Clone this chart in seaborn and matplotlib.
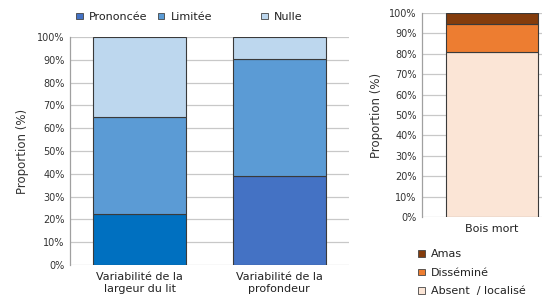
import matplotlib
matplotlib.use("Agg")
import matplotlib.pyplot as plt
from matplotlib.patches import Patch
import seaborn as sns
import numpy as np

# ---- data ----
categories_left = ["Variabilité de la\nlargeur du lit", "Variabilité de la\nprofondeur"]
prononcee = [22.5, 39.0]
limitee = [42.5, 51.5]
nulle = [35.0, 9.5]
series_left = ["Prononcée", "Limitée", "Nulle"]

categories_right = ["Bois mort"]
absent = [81.0]
dissemine = [13.5]
amas = [5.5]
series_right = ["Amas", "Disséminé", "Absent  / localisé"]

yticks = list(range(0, 101, 10))
ytick_labels = [f"{v}%" for v in yticks]

sns.set_theme(style="white")
plt.rcParams["font.family"] = ["DejaVu Sans"]

W, H = 542, 303
fig = plt.figure(figsize=(W / 100, H / 100), dpi=100)
fig.patch.set_facecolor("white")

def ax_rect(x0, x1, ytop, ybot):
    return [x0 / W, 1 - ybot / H, (x1 - x0) / W, (ybot - ytop) / H]

ax1 = fig.add_axes(ax_rect(70, 349, 37, 265))
ax2 = fig.add_axes(ax_rect(422, 542, 13, 217))

edge = "#3a3a3a"
lw = 0.8
grid_c = "#c8c8c8"

c_pron = ["#0070C0", "#4472C4"]
c_lim = "#5B9BD5"
c_nul = "#BDD7EE"

sns.barplot(x=categories_left, y=prononcee, hue=categories_left, palette=c_pron,
            legend=False, width=0.67, ax=ax1, edgecolor=edge, linewidth=lw, zorder=3)
sns.barplot(x=categories_left, y=limitee, bottom=prononcee, color=c_lim,
            width=0.67, ax=ax1, edgecolor=edge, linewidth=lw, saturation=1, zorder=3)
sns.barplot(x=categories_left, y=nulle, bottom=np.add(prononcee, limitee), color=c_nul,
            width=0.67, ax=ax1, edgecolor=edge, linewidth=lw, saturation=1, zorder=3)
for p, c in zip(ax1.patches[:2], c_pron):
    p.set_facecolor(c)

c_abs = "#FBE5D6"
c_dis = "#ED7D31"
c_amas = "#843C0C"
sns.barplot(x=categories_right, y=absent, color=c_abs, width=0.66, ax=ax2,
            edgecolor=edge, linewidth=lw, saturation=1, zorder=3)
sns.barplot(x=categories_right, y=dissemine, bottom=absent, color=c_dis, width=0.66, ax=ax2,
            edgecolor=edge, linewidth=lw, saturation=1, zorder=3)
sns.barplot(x=categories_right, y=amas, bottom=np.add(absent, dissemine), color=c_amas,
            width=0.66, ax=ax2, edgecolor=edge, linewidth=lw, saturation=1, zorder=3)

for ax in (ax1, ax2):
    ax.set_ylim(0, 100)
    ax.set_yticks(yticks)
    ax.set_yticklabels(ytick_labels, fontsize=7, color="#333333")
    ax.yaxis.grid(True, color=grid_c, linewidth=0.9, zorder=0)
    ax.set_axisbelow(True)
    for s in ("top", "right", "bottom"):
        ax.spines[s].set_visible(False)
    ax.spines["left"].set_color("#a0a0a0")
    ax.spines["left"].set_linewidth(0.9)
    ax.tick_params(axis="both", length=0, pad=4)
    ax.set_xlabel("")
    ax.set_facecolor("white")

ax1.set_ylabel("Proportion (%)", fontsize=8.5, color="#333333", labelpad=6)
ax2.set_ylabel("Proportion (%)", fontsize=8.5, color="#333333", labelpad=4)
ax1.set_xlim(-0.5, 1.5)
ax1.tick_params(axis="x", labelsize=8, pad=5, labelcolor="#222222")
ax2.set_xlim(-0.5, 0.36)
ax2.tick_params(axis="x", labelsize=8, pad=5, labelcolor="#222222")

# legends
leg_colors_left = ["#4472C4", c_lim, c_nul]
h = [Patch(facecolor=c, edgecolor="#444444", linewidth=0.6) for c in leg_colors_left]
kw = dict(frameon=False, fontsize=8, handlelength=0.55, handleheight=0.55,
          handletextpad=0.55, borderaxespad=0, labelcolor="#222222")
fig.legend(h[:2], series_left[:2], ncol=2, columnspacing=1.0,
           loc="center left", bbox_to_anchor=(72 / W, 1 - 17 / H), **kw)
fig.legend(h[2:], series_left[2:], ncol=1,
           loc="center left", bbox_to_anchor=(257 / W, 1 - 17 / H), **kw)

leg_colors_right = [c_amas, c_dis, c_abs]
h2 = [Patch(facecolor=c, edgecolor="#444444", linewidth=0.6) for c in leg_colors_right]
fig.legend(h2, series_right, ncol=1, loc="upper left",
           bbox_to_anchor=(414 / W, 1 - 245 / H), labelspacing=0.75, **kw)

fig.savefig("out.png", dpi=100, facecolor="white")
